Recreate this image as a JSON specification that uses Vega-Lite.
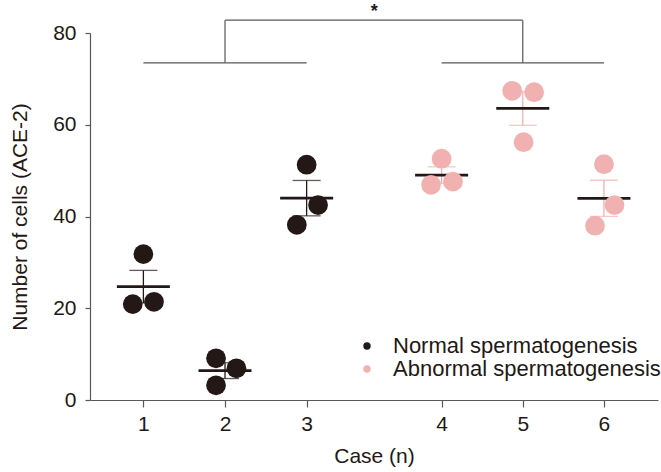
{
  "$schema": "https://vega.github.io/schema/vega-lite/v6.json",
  "width": 568,
  "height": 367,
  "autosize": {"type": "none"},
  "padding": {"left": 90, "top": 33, "right": 3, "bottom": 72},
  "background": "white",
  "config": {
    "font": "Liberation Sans",
    "view": {"stroke": null},
    "axis": {
      "grid": false,
      "domainColor": "#595757",
      "tickColor": "#595757",
      "domainWidth": 1.2,
      "tickWidth": 1.2,
      "labelColor": "#231815",
      "titleColor": "#231815",
      "labelFontSize": 21,
      "titleFontSize": 21,
      "titleFontWeight": "normal",
      "labelFont": "Liberation Sans",
      "titleFont": "Liberation Sans"
    }
  },
  "datasets": {
    "cells": [
      {"case": 1, "x": 1.0, "value": 31.8, "group": "Normal spermatogenesis"},
      {"case": 1, "x": 0.87, "value": 20.9, "group": "Normal spermatogenesis"},
      {"case": 1, "x": 1.13, "value": 21.4, "group": "Normal spermatogenesis"},
      {"case": 2, "x": 1.89, "value": 9.1, "group": "Normal spermatogenesis"},
      {"case": 2, "x": 2.14, "value": 6.9, "group": "Normal spermatogenesis"},
      {"case": 2, "x": 1.89, "value": 3.2, "group": "Normal spermatogenesis"},
      {"case": 3, "x": 3.0, "value": 51.3, "group": "Normal spermatogenesis"},
      {"case": 3, "x": 3.14, "value": 42.5, "group": "Normal spermatogenesis"},
      {"case": 3, "x": 2.88, "value": 38.2, "group": "Normal spermatogenesis"},
      {"case": 4, "x": 4.0, "value": 52.6, "group": "Abnormal spermatogenesis"},
      {"case": 4, "x": 3.87, "value": 46.9, "group": "Abnormal spermatogenesis"},
      {"case": 4, "x": 4.14, "value": 47.6, "group": "Abnormal spermatogenesis"},
      {"case": 5, "x": 4.87, "value": 67.4, "group": "Abnormal spermatogenesis"},
      {"case": 5, "x": 5.14, "value": 67.1, "group": "Abnormal spermatogenesis"},
      {"case": 5, "x": 5.01, "value": 56.2, "group": "Abnormal spermatogenesis"},
      {"case": 6, "x": 6.0, "value": 51.4, "group": "Abnormal spermatogenesis"},
      {"case": 6, "x": 6.13, "value": 42.5, "group": "Abnormal spermatogenesis"},
      {"case": 6, "x": 5.89, "value": 38.0, "group": "Abnormal spermatogenesis"}
    ],
    "bracket": [
      {"x1": 1, "x2": 3, "y1": 73.5, "y2": 73.5},
      {"x1": 4, "x2": 6, "y1": 73.5, "y2": 73.5},
      {"x1": 2, "x2": 2, "y1": 73.5, "y2": 82.8},
      {"x1": 5, "x2": 5, "y1": 73.5, "y2": 82.8},
      {"x1": 2, "x2": 5, "y1": 82.8, "y2": 82.8}
    ],
    "star": [{"x": 3.5, "y": 86.5, "label": "*"}]
  },
  "layer": [
    {
      "data": {"name": "bracket"},
      "mark": {"type": "rule", "color": "#595757", "strokeWidth": 1.2},
      "encoding": {
        "x": {"field": "x1", "type": "quantitative", "title": "Case (n)", "scale": {"domain": [0.346, 3.35, 3.65, 6.666], "range": [0, 245.2, 323.2, 568], "nice": false, "zero": false},
          "axis": {"values": [1, 2, 3, 4, 5, 6], "format": "d", "tickSize": 7, "labelPadding": 6, "titlePadding": 11, "labelFlush": false}},
        "x2": {"field": "x2"},
        "y": {"field": "y1", "type": "quantitative", "title": "Number of cells (ACE-2)", "scale": {"domain": [0, 80], "nice": false, "zero": true},
          "axis": {"values": [0, 20, 40, 60, 80], "format": "d", "tickSize": 5, "labelPadding": 9, "titlePadding": 22, "labelFlush": false}},
        "y2": {"field": "y2"}
      }
    },
    {
      "data": {"name": "star"},
      "mark": {"type": "text", "fontSize": 18, "fontWeight": "bold", "color": "#231815", "baseline": "top"},
      "encoding": {
        "x": {"field": "x", "type": "quantitative", "title": "Case (n)"},
        "y": {"field": "y", "type": "quantitative", "title": "Number of cells (ACE-2)"},
        "text": {"field": "label"}
      }
    },
    {
      "data": {"name": "cells"},
      "transform": [{"filter": "datum.group === 'Normal spermatogenesis'"}],
      "mark": {"type": "errorbar", "extent": "stderr", "orient": "vertical", "ticks": true, "size": 28, "thickness": 1.3, "color": "#231815"},
      "encoding": {
        "x": {"field": "case", "type": "quantitative", "title": "Case (n)"},
        "y": {"field": "value", "type": "quantitative", "title": "Number of cells (ACE-2)"}
      }
    },
    {
      "data": {"name": "cells"},
      "transform": [{"filter": "datum.group === 'Abnormal spermatogenesis'"}],
      "mark": {"type": "errorbar", "extent": "stderr", "orient": "vertical", "ticks": true, "size": 28, "thickness": 1.3, "color": "#f2b1b1"},
      "encoding": {
        "x": {"field": "case", "type": "quantitative", "title": "Case (n)"},
        "y": {"field": "value", "type": "quantitative", "title": "Number of cells (ACE-2)"}
      }
    },
    {
      "data": {"name": "cells"},
      "mark": {"type": "tick", "orient": "horizontal", "size": 53, "thickness": 2.7, "color": "#231815"},
      "encoding": {
        "x": {"field": "case", "type": "quantitative", "title": "Case (n)"},
        "y": {"aggregate": "mean", "field": "value", "type": "quantitative", "title": "Number of cells (ACE-2)"}
      }
    },
    {
      "data": {"name": "cells"},
      "mark": {"type": "circle", "size": 390, "opacity": 1},
      "encoding": {
        "x": {"field": "x", "type": "quantitative", "title": "Case (n)"},
        "y": {"field": "value", "type": "quantitative", "title": "Number of cells (ACE-2)"},
        "color": {
          "field": "group", "type": "nominal",
          "scale": {"domain": ["Normal spermatogenesis", "Abnormal spermatogenesis"], "range": ["#231815", "#f2b1b1"]},
          "legend": {"title": null, "orient": "none", "legendX": 266, "legendY": 302, "symbolType": "circle", "symbolSize": 55, "symbolOpacity": 1, "labelFontSize": 22, "labelColor": "#231815", "labelOffset": 15, "labelLimit": 400, "rowPadding": 1, "labelFont": "Liberation Sans"}
        }
      }
    }
  ]
}
